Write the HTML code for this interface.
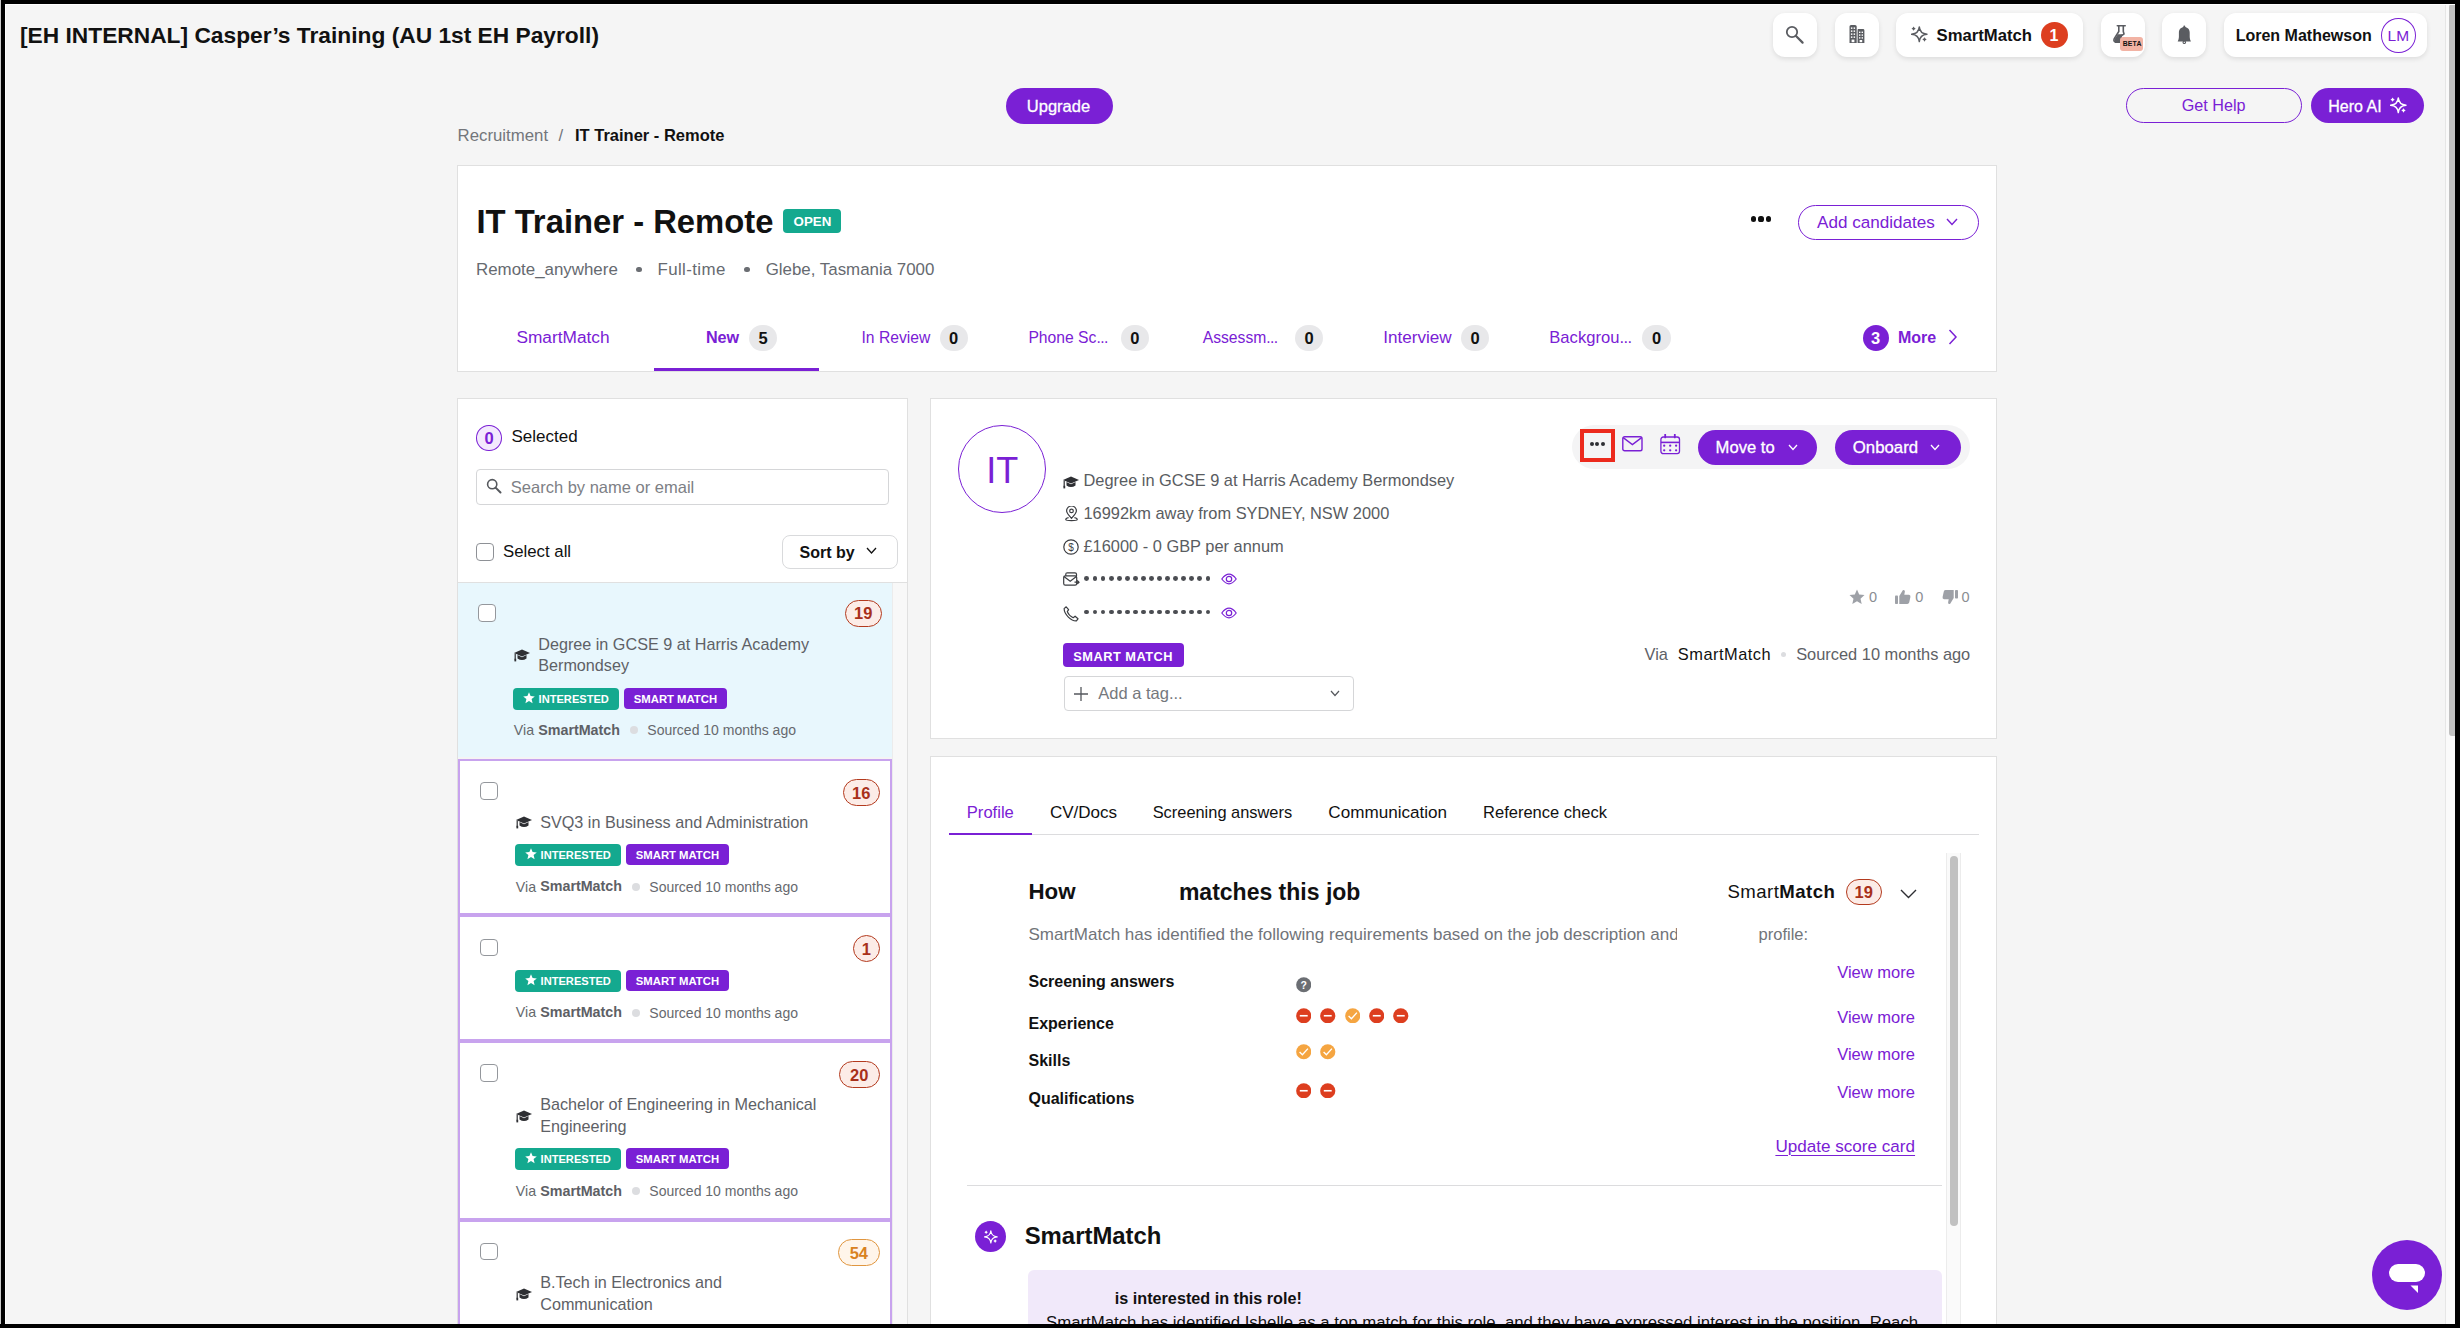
<!DOCTYPE html>
<html lang="en"><head><meta charset="utf-8"><title>IT Trainer - Remote</title>
<style>
html,body{margin:0;padding:0;}
body{width:2460px;height:1328px;overflow:hidden;position:relative;background:#f5f5f5;font-family:"Liberation Sans", Arial, sans-serif;-webkit-font-smoothing:antialiased;}
.t{position:absolute;white-space:nowrap;}
.b{position:absolute;box-sizing:border-box;}
.shadow{background:#fff;border-radius:12px;box-shadow:0 2px 6px rgba(0,0,0,0.10),0 0 1px rgba(0,0,0,0.06);}
</style></head><body>

<div class="t " style="left:20.0px;top:21.57px;font-size:22.75px;line-height:27.30px;font-weight:700;color:#111;">[EH INTERNAL] Casper’s Training (AU 1st EH Payroll)</div>
<div class="b" style="left:1773px;top:13px;width:44px;height:44px;background:#fff;border-radius:12px;box-shadow:0 2px 5px rgba(0,0,0,0.10);"></div>
<svg class="b" style="left:1785px;top:25px;" width="20" height="20" viewBox="0 0 20 20" fill="none"><circle cx="7" cy="7" r="5.2" stroke="#5a5c61" stroke-width="1.8"/><path d="M11 11 L17.6 17.6" stroke="#5a5c61" stroke-width="2.2" stroke-linecap="round"/></svg>
<div class="b" style="left:1835px;top:13px;width:44px;height:44px;background:#fff;border-radius:12px;box-shadow:0 2px 5px rgba(0,0,0,0.10);"></div>
<svg class="b" style="left:1849px;top:25px;" width="16" height="18" viewBox="0 0 16 18" fill="none"><path d="M0.5 1.5 Q0.5 0 2 0 H6 Q7.7 0 7.7 1.5 V18 H0.5Z M8.6 4.6 Q8.6 4 9.3 4 H14 Q15.4 4 15.4 5.4 V18 H8.6Z" fill="#5a5c61"/><g fill="#fff"><rect x="1.9" y="2.4" width="1.5" height="1.5"/><rect x="4.6" y="2.4" width="1.5" height="1.5"/><rect x="1.9" y="5.4" width="1.5" height="1.5"/><rect x="4.6" y="5.4" width="1.5" height="1.5"/><rect x="1.9" y="8.4" width="1.5" height="1.5"/><rect x="4.6" y="8.4" width="1.5" height="1.5"/><rect x="1.9" y="11.4" width="1.5" height="1.5"/><rect x="4.6" y="11.4" width="1.5" height="1.5"/><rect x="2.6" y="14.6" width="2.8" height="2.6"/><rect x="10" y="6.6" width="1.4" height="1.4"/><rect x="12.6" y="6.6" width="1.4" height="1.4"/><rect x="10" y="9.4" width="1.4" height="1.4"/><rect x="12.6" y="9.4" width="1.4" height="1.4"/><rect x="10" y="12.2" width="1.4" height="1.4"/><rect x="12.6" y="12.2" width="1.4" height="1.4"/><rect x="10.6" y="15" width="2.6" height="2.2"/></g></svg>
<div class="b" style="left:1896px;top:13px;width:187px;height:44px;background:#fff;border-radius:12px;box-shadow:0 2px 5px rgba(0,0,0,0.10);"></div>
<svg class="b" style="left:1911px;top:26px;" width="17" height="17" viewBox="0 0 17 17" fill="none"><path d="M8.3 0.9 Q8.9 7.7 16 8.3 Q8.9 8.9 8.3 15.6 Q7.7 8.9 0.6 8.3 Q7.7 7.7 8.3 0.9Z" stroke="#5a5c61" stroke-width="1.45" stroke-linejoin="round"/><path d="M2.6 0.6000000000000001 Q3.188 2.112 4.7 2.7 Q3.188 3.2880000000000003 2.6 4.800000000000001 Q2.012 3.2880000000000003 0.5 2.7 Q2.012 2.112 2.6 0.6000000000000001Z" fill="#5a5c61"/><path d="M13.5 11.3 Q14.116 12.884 15.7 13.5 Q14.116 14.116 13.5 15.7 Q12.884 14.116 11.3 13.5 Q12.884 12.884 13.5 11.3Z" fill="#5a5c61"/></svg>
<div class="t " style="left:1936.5px;top:25.59px;font-size:16.7px;line-height:20.04px;font-weight:700;color:#111;">SmartMatch</div>
<div class="b" style="left:2041px;top:21.5px;width:27px;height:26.5px;background:#dd3e1f;border-radius:50%;"></div>
<div class="t " style="left:2049.5px;top:26.16px;font-size:16px;line-height:19.20px;font-weight:700;color:#fff;">1</div>
<div class="b" style="left:2101px;top:13px;width:44px;height:44px;background:#fff;border-radius:12px;box-shadow:0 2px 5px rgba(0,0,0,0.10);"></div>
<svg class="b" style="left:2113px;top:25px;" width="17" height="18" viewBox="0 0 17 18" fill="none"><path d="M4.3 0.8 H12.2" stroke="#5a5c61" stroke-width="1.6" stroke-linecap="round"/><path d="M5.8 1 V6.5 L1.3 13.5 Q0 16.8 3.4 17.5 H8 V11 L11 9 L10.3 6.5 V1" stroke="#5a5c61" stroke-width="1.6" fill="none"/><path d="M2 13.5 L4.9 9.2 H9 V17.5 H3.4 Q0.5 17 2 13.5Z" fill="#5a5c61"/></svg>
<div class="b" style="left:2120px;top:37px;width:22.59999999999991px;height:13.700000000000003px;background:#f2b3a4;border-radius:3px;"></div>
<div class="t " style="left:2122.7px;top:40.27px;font-size:6.9px;line-height:8.28px;font-weight:700;color:#111;letter-spacing:0.15px;">BETA</div>
<div class="b" style="left:2162px;top:13px;width:44px;height:44px;background:#fff;border-radius:12px;box-shadow:0 2px 5px rgba(0,0,0,0.10);"></div>
<svg class="b" style="left:2177px;top:24.5px;" width="15" height="19" viewBox="0 0 15 19" fill="none"><circle cx="7.3" cy="1.5" r="1" fill="#5a5c61"/><path d="M0.7 16.4 L1.5 14.4 Q1.9 13.2 1.9 11.8 V7.6 C1.9 4.4 4.2 2.1 7.3 2.1 C10.4 2.1 12.7 4.4 12.7 7.6 V11.8 Q12.7 13.2 13.1 14.4 L13.9 16.4Z" fill="#5a5c61"/><circle cx="7.3" cy="17.3" r="1.25" stroke="#5a5c61" stroke-width="1.1"/></svg>
<div class="b" style="left:2224px;top:13px;width:203px;height:44px;background:#fff;border-radius:12px;box-shadow:0 2px 5px rgba(0,0,0,0.10);"></div>
<div class="t " style="left:2235.7px;top:25.56px;font-size:16px;line-height:19.20px;font-weight:700;color:#111;">Loren Mathewson</div>
<div class="b" style="left:2381.3px;top:18.2px;width:34.69999999999982px;height:34.8px;border:1.5px solid #7a20d5;border-radius:50%;"></div>
<div class="t " style="left:2387.6px;top:26.53px;font-size:15.5px;line-height:18.60px;font-weight:400;color:#7a20d5;">LM</div>
<div class="b" style="left:1006px;top:88px;width:107px;height:36px;background:#7a20d5;border-radius:18px;"></div>
<div class="t " style="left:1026.8px;top:97.18px;font-size:16.5px;line-height:19.80px;font-weight:500;color:#fff;-webkit-text-stroke:0.3px #fff;">Upgrade</div>
<div class="b" style="left:2126px;top:88px;width:176px;height:35px;border:1.5px solid #7a20d5;border-radius:18px;"></div>
<div class="t " style="left:2181.7px;top:96.47px;font-size:16.2px;line-height:19.44px;font-weight:400;color:#7a20d5;">Get Help</div>
<div class="b" style="left:2311px;top:88px;width:113px;height:35px;background:#7a20d5;border-radius:18px;"></div>
<div class="t " style="left:2328.3px;top:96.66px;font-size:16px;line-height:19.20px;font-weight:500;color:#fff;-webkit-text-stroke:0.3px #fff;">Hero AI</div>
<svg class="b" style="left:2390.4px;top:97.2px;" width="17" height="17" viewBox="0 0 17 17" fill="none"><path d="M8.3 0.9 Q8.9 7.7 16 8.3 Q8.9 8.9 8.3 15.6 Q7.7 8.9 0.6 8.3 Q7.7 7.7 8.3 0.9Z" stroke="#fff" stroke-width="1.45" stroke-linejoin="round"/><path d="M2.6 0.6000000000000001 Q3.188 2.112 4.7 2.7 Q3.188 3.2880000000000003 2.6 4.800000000000001 Q2.012 3.2880000000000003 0.5 2.7 Q2.012 2.112 2.6 0.6000000000000001Z" fill="#fff"/><path d="M13.5 11.3 Q14.116 12.884 15.7 13.5 Q14.116 14.116 13.5 15.7 Q12.884 14.116 11.3 13.5 Q12.884 12.884 13.5 11.3Z" fill="#fff"/></svg>
<div class="t " style="left:457.6px;top:125.90px;font-size:16.8px;line-height:20.16px;font-weight:400;color:#73767b;">Recruitment</div>
<div class="t " style="left:558.5px;top:125.90px;font-size:16.8px;line-height:20.16px;font-weight:400;color:#73767b;">/</div>
<div class="t " style="left:575.0px;top:126.18px;font-size:16.5px;line-height:19.80px;font-weight:700;color:#111;">IT Trainer - Remote</div>
<div class="b" style="left:457px;top:165px;width:1540px;height:207px;background:#fff;border:1px solid #e0e0e0;"></div>
<div class="t " style="left:476.4px;top:201.55px;font-size:32.8px;line-height:39.36px;font-weight:700;color:#111;">IT Trainer - Remote</div>
<div class="b" style="left:783px;top:209px;width:58px;height:24px;background:#14a98f;border-radius:4px;"></div>
<div class="t " style="left:793.6px;top:214.41px;font-size:13.3px;line-height:15.96px;font-weight:700;color:#fff;">OPEN</div>
<div class="t " style="left:476.0px;top:259.80px;font-size:16.9px;line-height:20.28px;font-weight:400;color:#666a70;">Remote_anywhere</div>
<div class="b" style="left:636px;top:266.5px;width:5.5px;height:5.5px;background:#6b6e73;border-radius:50%;"></div>
<div class="t " style="left:657.5px;top:259.80px;font-size:16.9px;line-height:20.28px;font-weight:400;color:#666a70;letter-spacing:0.38px;">Full-time</div>
<div class="b" style="left:744px;top:266.5px;width:5.5px;height:5.5px;background:#6b6e73;border-radius:50%;"></div>
<div class="t " style="left:765.7px;top:259.80px;font-size:16.9px;line-height:20.28px;font-weight:400;color:#666a70;">Glebe, Tasmania 7000</div>
<div class="b" style="left:1751.0px;top:216.4px;width:5.199999999999818px;height:5.199999999999989px;background:#111;border-radius:50%;"></div>
<div class="b" style="left:1758.4px;top:216.4px;width:5.199999999999818px;height:5.199999999999989px;background:#111;border-radius:50%;"></div>
<div class="b" style="left:1765.8000000000002px;top:216.4px;width:5.199999999999818px;height:5.199999999999989px;background:#111;border-radius:50%;"></div>
<div class="b" style="left:1798px;top:205px;width:181px;height:35px;border:1.5px solid #7a20d5;border-radius:18px;"></div>
<div class="t " style="left:1817.0px;top:212.81px;font-size:17.1px;line-height:20.52px;font-weight:400;color:#7a20d5;">Add candidates</div>
<svg class="b" style="left:1946px;top:218px;" width="12" height="8" viewBox="0 0 12 8" fill="none"><path d="M1 1 L6 6.5 L11 1" stroke="#7a20d5" stroke-width="1.4"/></svg>
<div class="t " style="left:516.4px;top:327.43px;font-size:17.3px;line-height:20.76px;font-weight:400;color:#7a20d5;">SmartMatch</div>
<div class="t " style="left:705.9px;top:328.47px;font-size:16.2px;line-height:19.44px;font-weight:700;color:#7a20d5;">New</div>
<div class="b" style="left:749px;top:325px;width:28px;height:26px;background:#e8e8ea;border-radius:13px;"></div>
<div class="t " style="left:758.4px;top:329.48px;font-size:16.5px;line-height:19.80px;font-weight:700;color:#111;">5</div>
<div class="t " style="left:861.5px;top:328.94px;font-size:15.7px;line-height:18.84px;font-weight:400;color:#7a20d5;">In Review</div>
<div class="b" style="left:940px;top:325px;width:27.5px;height:26px;background:#e8e8ea;border-radius:13px;"></div>
<div class="t " style="left:949.1px;top:329.48px;font-size:16.5px;line-height:19.80px;font-weight:700;color:#111;">0</div>
<div class="t " style="left:1028.4px;top:328.94px;font-size:15.7px;line-height:18.84px;font-weight:400;color:#7a20d5;">Phone Sc<span style='letter-spacing:-0.6px'>...</span></div>
<div class="b" style="left:1121px;top:325px;width:27.5px;height:26px;background:#e8e8ea;border-radius:13px;"></div>
<div class="t " style="left:1130.2px;top:329.48px;font-size:16.5px;line-height:19.80px;font-weight:700;color:#111;">0</div>
<div class="t " style="left:1202.7px;top:328.94px;font-size:15.7px;line-height:18.84px;font-weight:400;color:#7a20d5;">Assessm<span style='letter-spacing:-0.6px'>...</span></div>
<div class="b" style="left:1295px;top:325px;width:28px;height:26px;background:#e8e8ea;border-radius:13px;"></div>
<div class="t " style="left:1304.4px;top:329.48px;font-size:16.5px;line-height:19.80px;font-weight:700;color:#111;">0</div>
<div class="t " style="left:1383.3px;top:327.61px;font-size:17.1px;line-height:20.52px;font-weight:400;color:#7a20d5;">Interview</div>
<div class="b" style="left:1461px;top:325px;width:28px;height:26px;background:#e8e8ea;border-radius:13px;"></div>
<div class="t " style="left:1470.4px;top:329.48px;font-size:16.5px;line-height:19.80px;font-weight:700;color:#111;">0</div>
<div class="t " style="left:1549.3px;top:328.09px;font-size:16.6px;line-height:19.92px;font-weight:400;color:#7a20d5;">Backgrou<span style='letter-spacing:-0.6px'>...</span></div>
<div class="b" style="left:1642.3px;top:325px;width:28.700000000000045px;height:26px;background:#e8e8ea;border-radius:13px;"></div>
<div class="t " style="left:1652.1px;top:329.48px;font-size:16.5px;line-height:19.80px;font-weight:700;color:#111;">0</div>
<div class="b" style="left:1862.7px;top:325px;width:26.0px;height:26px;background:#7a20d5;border-radius:50%;"></div>
<div class="t " style="left:1871.0px;top:329.38px;font-size:16.5px;line-height:19.80px;font-weight:700;color:#fff;">3</div>
<div class="t " style="left:1898.0px;top:328.16px;font-size:16px;line-height:19.20px;font-weight:700;color:#7a20d5;">More</div>
<svg class="b" style="left:1948px;top:329px;" width="10" height="16" viewBox="0 0 10 16" fill="none"><path d="M1.5 1 L8 8 L1.5 15" stroke="#7a20d5" stroke-width="1.5"/></svg>
<div class="b" style="left:654px;top:368px;width:165px;height:3px;background:#7a20d5;"></div>
<div class="b" style="left:457px;top:398px;width:451px;height:1002px;background:#fff;border:1px solid #e0e0e0;"></div>
<div class="b" style="left:476.2px;top:425.3px;width:25.600000000000023px;height:26.19999999999999px;background:#f3e9fd;border:1.3px solid #7a20d5;border-radius:50%;"></div>
<div class="t " style="left:484.5px;top:429.18px;font-size:16.5px;line-height:19.80px;font-weight:700;color:#7a20d5;">0</div>
<div class="t " style="left:511.5px;top:426.71px;font-size:17px;line-height:20.40px;font-weight:400;color:#111;">Selected</div>
<div class="b" style="left:476.4px;top:469.3px;width:413.0px;height:35.30000000000001px;background:#fff;border:1px solid #d5d6d8;border-radius:4px;"></div>
<svg class="b" style="left:486px;top:478px;" width="16" height="16" viewBox="0 0 16 16" fill="none"><circle cx="6.2" cy="6.2" r="4.6" stroke="#55585d" stroke-width="1.6"/><path d="M9.6 9.6 L14.5 14.5" stroke="#55585d" stroke-width="2" stroke-linecap="round"/></svg>
<div class="t " style="left:510.8px;top:478.18px;font-size:16.5px;line-height:19.80px;font-weight:400;color:#7d8085;">Search by name or email</div>
<div class="b" style="left:476.2px;top:543.2px;width:18.0px;height:17.799999999999955px;background:#fff;border:1.4px solid #8e9196;border-radius:4px;"></div>
<div class="t " style="left:503.0px;top:541.90px;font-size:16.8px;line-height:20.16px;font-weight:400;color:#111;">Select all</div>
<div class="b" style="left:781.5px;top:534.6px;width:116.89999999999998px;height:34.60000000000002px;background:#fff;border:1px solid #d9dadc;border-radius:8px;"></div>
<div class="t " style="left:799.6px;top:543.46px;font-size:16px;line-height:19.20px;font-weight:700;color:#111;">Sort by</div>
<svg class="b" style="left:866px;top:547px;" width="11" height="8" viewBox="0 0 11 8" fill="none"><path d="M1 1 L5.5 6 L10 1" stroke="#111" stroke-width="1.3"/></svg>
<div class="b" style="left:458px;top:582px;width:449px;height:1px;background:#e0e0e0;"></div>
<div class="b" style="left:892px;top:583px;width:15px;height:817px;background:#f8f8f8;border-left:1px solid #ececec;"></div>
<div class="b" style="left:458px;top:757px;width:434px;height:2px;background:#f4f4f5;"></div>
<div class="b" style="left:458px;top:583px;width:434px;height:174px;background:#e8f7fd;"></div>
<div class="b" style="left:478px;top:604px;width:18px;height:17.600000000000023px;background:#fff;border:1.4px solid #94979c;border-radius:4px;"></div>
<div class="b" style="left:844.9px;top:600px;width:36.89999999999998px;height:26.5px;background:#fcece7;border:1.3px solid #b33a1e;border-radius:14px;"></div>
<div class="t " style="left:854.0px;top:604.48px;font-size:16.5px;line-height:19.80px;font-weight:700;color:#a8301a;">19</div>
<svg class="b" style="left:513.8px;top:649px;" width="16" height="13" viewBox="0 0 16 13" fill="none"><path d="M8 0.5 L16 4 L8 7.5 L0 4Z" fill="#2e2f33"/><path d="M3.5 6 V9.5 Q8 12.5 12.5 9.5 V6 L8 8.2Z" fill="#2e2f33"/><path d="M1.2 4.6 V10.6" stroke="#2e2f33" stroke-width="1.2"/><rect x="0.4" y="9.8" width="1.8" height="2.6" fill="#2e2f33"/></svg>
<div class="t " style="left:538.2px;top:634.87px;font-size:16.2px;line-height:19.44px;font-weight:400;color:#5e6166;">Degree in GCSE 9 at Harris Academy</div>
<div class="t " style="left:538.2px;top:656.47px;font-size:16.2px;line-height:19.44px;font-weight:400;color:#5e6166;">Bermondsey</div>
<div class="b" style="left:513.3px;top:688.2px;width:105.5px;height:21.5px;background:#14a98f;border-radius:4px;"></div>
<svg class="b" style="left:523.3px;top:691.8000000000001px;" width="12" height="12" viewBox="0 0 12 12" fill="none"><path d="M6 0.2 L7.6 4.1 L11.8 4.4 L8.6 7.1 L9.6 11.3 L6 9.1 L2.4 11.3 L3.4 7.1 L0.2 4.4 L4.4 4.1Z" fill="#fff"/></svg>
<div class="t " style="left:538.6px;top:693.09px;font-size:11.1px;line-height:13.32px;font-weight:700;color:#fff;">INTERESTED</div>
<div class="b" style="left:624.3px;top:688.2px;width:102.5px;height:21.200000000000045px;background:#7a20d5;border-radius:4px;"></div>
<div class="t " style="left:633.8px;top:692.90px;font-size:11.3px;line-height:13.56px;font-weight:700;color:#fff;">SMART MATCH</div>
<div class="t " style="left:513.8px;top:721.76px;font-size:14.2px;line-height:17.04px;font-weight:400;color:#66696e;">Via</div>
<div class="t " style="left:538.2px;top:721.67px;font-size:14.3px;line-height:17.16px;font-weight:700;color:#5d6065;">SmartMatch</div>
<div class="b" style="left:629.8px;top:725.9px;width:8.0px;height:8.0px;background:#dcdde0;border-radius:50%;"></div>
<div class="t " style="left:647.3px;top:721.95px;font-size:14px;line-height:16.80px;font-weight:400;color:#66696e;">Sourced 10 months ago</div>
<div class="b" style="left:458px;top:759px;width:434px;height:156px;background:#fff;border:2px solid #c8a3ee;"></div>
<div class="b" style="left:480px;top:782px;width:18px;height:17.600000000000023px;background:#fff;border:1.4px solid #94979c;border-radius:4px;"></div>
<div class="b" style="left:843px;top:779.4px;width:36.700000000000045px;height:26.5px;background:#fcece7;border:1.3px solid #b33a1e;border-radius:14px;"></div>
<div class="t " style="left:852.1px;top:783.88px;font-size:16.5px;line-height:19.80px;font-weight:700;color:#a8301a;">16</div>
<svg class="b" style="left:515.8px;top:815.5px;" width="16" height="13" viewBox="0 0 16 13" fill="none"><path d="M8 0.5 L16 4 L8 7.5 L0 4Z" fill="#2e2f33"/><path d="M3.5 6 V9.5 Q8 12.5 12.5 9.5 V6 L8 8.2Z" fill="#2e2f33"/><path d="M1.2 4.6 V10.6" stroke="#2e2f33" stroke-width="1.2"/><rect x="0.4" y="9.8" width="1.8" height="2.6" fill="#2e2f33"/></svg>
<div class="t " style="left:540.2px;top:813.47px;font-size:16.2px;line-height:19.44px;font-weight:400;color:#5e6166;">SVQ3 in Business and Administration</div>
<div class="b" style="left:515.3px;top:844.2px;width:105.5px;height:21.5px;background:#14a98f;border-radius:4px;"></div>
<svg class="b" style="left:525.3px;top:847.8000000000001px;" width="12" height="12" viewBox="0 0 12 12" fill="none"><path d="M6 0.2 L7.6 4.1 L11.8 4.4 L8.6 7.1 L9.6 11.3 L6 9.1 L2.4 11.3 L3.4 7.1 L0.2 4.4 L4.4 4.1Z" fill="#fff"/></svg>
<div class="t " style="left:540.6px;top:849.09px;font-size:11.1px;line-height:13.32px;font-weight:700;color:#fff;">INTERESTED</div>
<div class="b" style="left:626.3px;top:844.2px;width:102.5px;height:21.200000000000045px;background:#7a20d5;border-radius:4px;"></div>
<div class="t " style="left:635.8px;top:848.90px;font-size:11.3px;line-height:13.56px;font-weight:700;color:#fff;">SMART MATCH</div>
<div class="t " style="left:515.8px;top:878.56px;font-size:14.2px;line-height:17.04px;font-weight:400;color:#66696e;">Via</div>
<div class="t " style="left:540.2px;top:878.47px;font-size:14.3px;line-height:17.16px;font-weight:700;color:#5d6065;">SmartMatch</div>
<div class="b" style="left:631.8px;top:882.7px;width:8.0px;height:8.0px;background:#dcdde0;border-radius:50%;"></div>
<div class="t " style="left:649.3px;top:878.75px;font-size:14px;line-height:16.80px;font-weight:400;color:#66696e;">Sourced 10 months ago</div>
<div class="b" style="left:458px;top:915px;width:434px;height:126px;background:#fff;border:2px solid #c8a3ee;"></div>
<div class="b" style="left:480px;top:938.6px;width:18px;height:17.600000000000023px;background:#fff;border:1.4px solid #94979c;border-radius:4px;"></div>
<div class="b" style="left:853px;top:935.2px;width:26.700000000000045px;height:26.5px;background:#fcece7;border:1.3px solid #b33a1e;border-radius:14px;"></div>
<div class="t " style="left:861.7px;top:939.68px;font-size:16.5px;line-height:19.80px;font-weight:700;color:#a8301a;">1</div>
<div class="b" style="left:515.3px;top:970.2px;width:105.5px;height:21.5px;background:#14a98f;border-radius:4px;"></div>
<svg class="b" style="left:525.3px;top:973.8000000000001px;" width="12" height="12" viewBox="0 0 12 12" fill="none"><path d="M6 0.2 L7.6 4.1 L11.8 4.4 L8.6 7.1 L9.6 11.3 L6 9.1 L2.4 11.3 L3.4 7.1 L0.2 4.4 L4.4 4.1Z" fill="#fff"/></svg>
<div class="t " style="left:540.6px;top:975.09px;font-size:11.1px;line-height:13.32px;font-weight:700;color:#fff;">INTERESTED</div>
<div class="b" style="left:626.3px;top:970.2px;width:102.5px;height:21.200000000000045px;background:#7a20d5;border-radius:4px;"></div>
<div class="t " style="left:635.8px;top:974.90px;font-size:11.3px;line-height:13.56px;font-weight:700;color:#fff;">SMART MATCH</div>
<div class="t " style="left:515.8px;top:1004.36px;font-size:14.2px;line-height:17.04px;font-weight:400;color:#66696e;">Via</div>
<div class="t " style="left:540.2px;top:1004.27px;font-size:14.3px;line-height:17.16px;font-weight:700;color:#5d6065;">SmartMatch</div>
<div class="b" style="left:631.8px;top:1008.5px;width:8.0px;height:8.0px;background:#dcdde0;border-radius:50%;"></div>
<div class="t " style="left:649.3px;top:1004.55px;font-size:14px;line-height:16.80px;font-weight:400;color:#66696e;">Sourced 10 months ago</div>
<div class="b" style="left:458px;top:1041px;width:434px;height:179px;background:#fff;border:2px solid #c8a3ee;"></div>
<div class="b" style="left:480px;top:1064px;width:18px;height:17.59999999999991px;background:#fff;border:1.4px solid #94979c;border-radius:4px;"></div>
<div class="b" style="left:839px;top:1061.4px;width:40.700000000000045px;height:26.5px;background:#fcece7;border:1.3px solid #b33a1e;border-radius:14px;"></div>
<div class="t " style="left:850.1px;top:1065.88px;font-size:16.5px;line-height:19.80px;font-weight:700;color:#a8301a;">20</div>
<svg class="b" style="left:515.8px;top:1109.6px;" width="16" height="13" viewBox="0 0 16 13" fill="none"><path d="M8 0.5 L16 4 L8 7.5 L0 4Z" fill="#2e2f33"/><path d="M3.5 6 V9.5 Q8 12.5 12.5 9.5 V6 L8 8.2Z" fill="#2e2f33"/><path d="M1.2 4.6 V10.6" stroke="#2e2f33" stroke-width="1.2"/><rect x="0.4" y="9.8" width="1.8" height="2.6" fill="#2e2f33"/></svg>
<div class="t " style="left:540.2px;top:1095.07px;font-size:16.2px;line-height:19.44px;font-weight:400;color:#5e6166;">Bachelor of Engineering in Mechanical</div>
<div class="t " style="left:540.2px;top:1116.67px;font-size:16.2px;line-height:19.44px;font-weight:400;color:#5e6166;">Engineering</div>
<div class="b" style="left:515.3px;top:1148px;width:105.5px;height:21.5px;background:#14a98f;border-radius:4px;"></div>
<svg class="b" style="left:525.3px;top:1151.6px;" width="12" height="12" viewBox="0 0 12 12" fill="none"><path d="M6 0.2 L7.6 4.1 L11.8 4.4 L8.6 7.1 L9.6 11.3 L6 9.1 L2.4 11.3 L3.4 7.1 L0.2 4.4 L4.4 4.1Z" fill="#fff"/></svg>
<div class="t " style="left:540.6px;top:1152.89px;font-size:11.1px;line-height:13.32px;font-weight:700;color:#fff;">INTERESTED</div>
<div class="b" style="left:626.3px;top:1148px;width:102.5px;height:21.200000000000045px;background:#7a20d5;border-radius:4px;"></div>
<div class="t " style="left:635.8px;top:1152.70px;font-size:11.3px;line-height:13.56px;font-weight:700;color:#fff;">SMART MATCH</div>
<div class="t " style="left:515.8px;top:1182.96px;font-size:14.2px;line-height:17.04px;font-weight:400;color:#66696e;">Via</div>
<div class="t " style="left:540.2px;top:1182.87px;font-size:14.3px;line-height:17.16px;font-weight:700;color:#5d6065;">SmartMatch</div>
<div class="b" style="left:631.8px;top:1187.1px;width:8.0px;height:8.0px;background:#dcdde0;border-radius:50%;"></div>
<div class="t " style="left:649.3px;top:1183.15px;font-size:14px;line-height:16.80px;font-weight:400;color:#66696e;">Sourced 10 months ago</div>
<div class="b" style="left:458px;top:1220px;width:434px;height:180px;background:#fff;border:2px solid #c8a3ee;"></div>
<div class="b" style="left:480px;top:1242.5px;width:18px;height:17.59999999999991px;background:#fff;border:1.4px solid #94979c;border-radius:4px;"></div>
<div class="b" style="left:838.2px;top:1239.3px;width:41.5px;height:26.5px;background:#fff5ea;border:1.3px solid #e0963f;border-radius:14px;"></div>
<div class="t " style="left:849.7px;top:1243.78px;font-size:16.5px;line-height:19.80px;font-weight:700;color:#d9821f;">54</div>
<svg class="b" style="left:515.8px;top:1287.5px;" width="16" height="13" viewBox="0 0 16 13" fill="none"><path d="M8 0.5 L16 4 L8 7.5 L0 4Z" fill="#2e2f33"/><path d="M3.5 6 V9.5 Q8 12.5 12.5 9.5 V6 L8 8.2Z" fill="#2e2f33"/><path d="M1.2 4.6 V10.6" stroke="#2e2f33" stroke-width="1.2"/><rect x="0.4" y="9.8" width="1.8" height="2.6" fill="#2e2f33"/></svg>
<div class="t " style="left:540.2px;top:1273.47px;font-size:16.2px;line-height:19.44px;font-weight:400;color:#5e6166;">B.Tech in Electronics and</div>
<div class="t " style="left:540.2px;top:1295.07px;font-size:16.2px;line-height:19.44px;font-weight:400;color:#5e6166;">Communication</div>
<div class="b" style="left:515.3px;top:1327px;width:105.5px;height:21.5px;background:#14a98f;border-radius:4px;"></div>
<svg class="b" style="left:525.3px;top:1330.6px;" width="12" height="12" viewBox="0 0 12 12" fill="none"><path d="M6 0.2 L7.6 4.1 L11.8 4.4 L8.6 7.1 L9.6 11.3 L6 9.1 L2.4 11.3 L3.4 7.1 L0.2 4.4 L4.4 4.1Z" fill="#fff"/></svg>
<div class="t " style="left:540.6px;top:1331.89px;font-size:11.1px;line-height:13.32px;font-weight:700;color:#fff;">INTERESTED</div>
<div class="b" style="left:626.3px;top:1327px;width:102.5px;height:21.200000000000045px;background:#7a20d5;border-radius:4px;"></div>
<div class="t " style="left:635.8px;top:1331.70px;font-size:11.3px;line-height:13.56px;font-weight:700;color:#fff;">SMART MATCH</div>
<div class="t " style="left:515.8px;top:1361.36px;font-size:14.2px;line-height:17.04px;font-weight:400;color:#66696e;">Via</div>
<div class="t " style="left:540.2px;top:1361.27px;font-size:14.3px;line-height:17.16px;font-weight:700;color:#5d6065;">SmartMatch</div>
<div class="b" style="left:631.8px;top:1365.5px;width:8.0px;height:8.0px;background:#dcdde0;border-radius:50%;"></div>
<div class="t " style="left:649.3px;top:1361.55px;font-size:14px;line-height:16.80px;font-weight:400;color:#66696e;">Sourced 10 months ago</div>
<div class="b" style="left:930px;top:398px;width:1067px;height:341px;background:#fff;border:1px solid #e0e0e0;"></div>
<div class="b" style="left:958px;top:425px;width:88px;height:88px;border:1.5px solid #7a20d5;border-radius:50%;"></div>
<div class="t " style="left:986.2px;top:448.73px;font-size:36px;line-height:43.20px;font-weight:400;color:#7a20d5;">IT</div>
<svg class="b" style="left:1063.4px;top:475.5px;" width="16" height="13" viewBox="0 0 16 13" fill="none"><path d="M8 0.5 L16 4 L8 7.5 L0 4Z" fill="#2e2f33"/><path d="M3.5 6 V9.5 Q8 12.5 12.5 9.5 V6 L8 8.2Z" fill="#2e2f33"/><path d="M1.2 4.6 V10.6" stroke="#2e2f33" stroke-width="1.2"/><rect x="0.4" y="9.8" width="1.8" height="2.6" fill="#2e2f33"/></svg>
<div class="t " style="left:1083.5px;top:471.28px;font-size:16.4px;line-height:19.68px;font-weight:400;color:#595c61;">Degree in GCSE 9 at Harris Academy Bermondsey</div>
<svg class="b" style="left:1065px;top:506px;" width="13" height="16" viewBox="0 0 13 16" fill="none"><path d="M6.5 12.3 C3.5 9 1.6 6.9 1.6 4.9 A4.9 4.9 0 0 1 11.4 4.9 C11.4 6.9 9.5 9 6.5 12.3Z" stroke="#3a3c40" stroke-width="1.2"/><circle cx="6.5" cy="4.9" r="1.8" stroke="#3a3c40" stroke-width="1.2"/><path d="M3.6 11.6 C1.4 12 0.6 12.8 0.8 13.6 C1.3 15 11.7 15 12.2 13.6 C12.4 12.8 11.6 12 9.4 11.6" stroke="#3a3c40" stroke-width="1.2"/></svg>
<div class="t " style="left:1083.5px;top:504.48px;font-size:16.4px;line-height:19.68px;font-weight:400;color:#595c61;">16992km away from SYDNEY, NSW 2000</div>
<svg class="b" style="left:1063px;top:539.3px;" width="16" height="16" viewBox="0 0 16 16" fill="none"><circle cx="8" cy="8" r="7.2" stroke="#3a3c40" stroke-width="1.2"/><text x="8" y="11.6" text-anchor="middle" font-family="Liberation Sans" font-size="10" fill="#3a3c40">$</text></svg>
<div class="t " style="left:1083.5px;top:537.48px;font-size:16.4px;line-height:19.68px;font-weight:400;color:#595c61;">£16000 - 0 GBP per annum</div>
<svg class="b" style="left:1063px;top:572px;" width="17" height="14" viewBox="0 0 17 14" fill="none"><rect x="0.7" y="3.8" width="13" height="9.4" rx="1.6" stroke="#3a3c40" stroke-width="1.2"/><path d="M0.9 4.6 L7.2 9.2 L13.4 4.6" stroke="#3a3c40" stroke-width="1.2"/><path d="M2.8 3.8 V2.3 Q2.8 0.8 4.3 0.8 H12 Q13.5 0.8 13.5 2.3 V4" stroke="#3a3c40" stroke-width="1.2"/><path d="M11.5 10.2 H16 M14.2 8.4 L16 10.2 L14.2 12" stroke="#3a3c40" stroke-width="1.2"/></svg>
<svg class="b" style="left:1063px;top:605.5px;" width="16" height="16" viewBox="0 0 16 16" fill="none"><path d="M3.2 0.8 L5.6 3.6 L4.3 5.6 C5.2 8 7.6 10.6 10.2 11.7 L12.1 10.2 L15 12.8 L13.4 14.9 C8.2 15.2 1.2 8.5 1.1 2.6Z" stroke="#3a3c40" stroke-width="1.2" stroke-linejoin="round"/></svg>
<div class="b" style="left:1084.45px;top:576.4499999999999px;width:4.900000000000091px;height:4.900000000000091px;background:#4b4d52;border-radius:50%;"></div>
<div class="b" style="left:1092.52px;top:576.4499999999999px;width:4.900000000000091px;height:4.900000000000091px;background:#4b4d52;border-radius:50%;"></div>
<div class="b" style="left:1100.5900000000001px;top:576.4499999999999px;width:4.900000000000091px;height:4.900000000000091px;background:#4b4d52;border-radius:50%;"></div>
<div class="b" style="left:1108.66px;top:576.4499999999999px;width:4.900000000000091px;height:4.900000000000091px;background:#4b4d52;border-radius:50%;"></div>
<div class="b" style="left:1116.73px;top:576.4499999999999px;width:4.900000000000091px;height:4.900000000000091px;background:#4b4d52;border-radius:50%;"></div>
<div class="b" style="left:1124.8px;top:576.4499999999999px;width:4.900000000000091px;height:4.900000000000091px;background:#4b4d52;border-radius:50%;"></div>
<div class="b" style="left:1132.8700000000001px;top:576.4499999999999px;width:4.900000000000091px;height:4.900000000000091px;background:#4b4d52;border-radius:50%;"></div>
<div class="b" style="left:1140.94px;top:576.4499999999999px;width:4.900000000000091px;height:4.900000000000091px;background:#4b4d52;border-radius:50%;"></div>
<div class="b" style="left:1149.01px;top:576.4499999999999px;width:4.900000000000091px;height:4.900000000000091px;background:#4b4d52;border-radius:50%;"></div>
<div class="b" style="left:1157.0800000000002px;top:576.4499999999999px;width:4.900000000000091px;height:4.900000000000091px;background:#4b4d52;border-radius:50%;"></div>
<div class="b" style="left:1165.15px;top:576.4499999999999px;width:4.900000000000091px;height:4.900000000000091px;background:#4b4d52;border-radius:50%;"></div>
<div class="b" style="left:1173.22px;top:576.4499999999999px;width:4.900000000000091px;height:4.900000000000091px;background:#4b4d52;border-radius:50%;"></div>
<div class="b" style="left:1181.29px;top:576.4499999999999px;width:4.900000000000091px;height:4.900000000000091px;background:#4b4d52;border-radius:50%;"></div>
<div class="b" style="left:1189.3600000000001px;top:576.4499999999999px;width:4.900000000000091px;height:4.900000000000091px;background:#4b4d52;border-radius:50%;"></div>
<div class="b" style="left:1197.43px;top:576.4499999999999px;width:4.900000000000091px;height:4.900000000000091px;background:#4b4d52;border-radius:50%;"></div>
<div class="b" style="left:1205.5px;top:576.4499999999999px;width:4.900000000000091px;height:4.900000000000091px;background:#4b4d52;border-radius:50%;"></div>
<svg class="b" style="left:1220.5px;top:573.4px;" width="16" height="12" viewBox="0 0 16 12" fill="none"><path d="M0.8 6 Q8 -3.6 15.2 6 Q8 15.6 0.8 6Z" stroke="#7a20d5" stroke-width="1.2"/><circle cx="8" cy="6" r="2.7" stroke="#7a20d5" stroke-width="1.2"/></svg>
<div class="b" style="left:1084.45px;top:609.55px;width:4.900000000000091px;height:4.900000000000091px;background:#4b4d52;border-radius:50%;"></div>
<div class="b" style="left:1092.52px;top:609.55px;width:4.900000000000091px;height:4.900000000000091px;background:#4b4d52;border-radius:50%;"></div>
<div class="b" style="left:1100.5900000000001px;top:609.55px;width:4.900000000000091px;height:4.900000000000091px;background:#4b4d52;border-radius:50%;"></div>
<div class="b" style="left:1108.66px;top:609.55px;width:4.900000000000091px;height:4.900000000000091px;background:#4b4d52;border-radius:50%;"></div>
<div class="b" style="left:1116.73px;top:609.55px;width:4.900000000000091px;height:4.900000000000091px;background:#4b4d52;border-radius:50%;"></div>
<div class="b" style="left:1124.8px;top:609.55px;width:4.900000000000091px;height:4.900000000000091px;background:#4b4d52;border-radius:50%;"></div>
<div class="b" style="left:1132.8700000000001px;top:609.55px;width:4.900000000000091px;height:4.900000000000091px;background:#4b4d52;border-radius:50%;"></div>
<div class="b" style="left:1140.94px;top:609.55px;width:4.900000000000091px;height:4.900000000000091px;background:#4b4d52;border-radius:50%;"></div>
<div class="b" style="left:1149.01px;top:609.55px;width:4.900000000000091px;height:4.900000000000091px;background:#4b4d52;border-radius:50%;"></div>
<div class="b" style="left:1157.0800000000002px;top:609.55px;width:4.900000000000091px;height:4.900000000000091px;background:#4b4d52;border-radius:50%;"></div>
<div class="b" style="left:1165.15px;top:609.55px;width:4.900000000000091px;height:4.900000000000091px;background:#4b4d52;border-radius:50%;"></div>
<div class="b" style="left:1173.22px;top:609.55px;width:4.900000000000091px;height:4.900000000000091px;background:#4b4d52;border-radius:50%;"></div>
<div class="b" style="left:1181.29px;top:609.55px;width:4.900000000000091px;height:4.900000000000091px;background:#4b4d52;border-radius:50%;"></div>
<div class="b" style="left:1189.3600000000001px;top:609.55px;width:4.900000000000091px;height:4.900000000000091px;background:#4b4d52;border-radius:50%;"></div>
<div class="b" style="left:1197.43px;top:609.55px;width:4.900000000000091px;height:4.900000000000091px;background:#4b4d52;border-radius:50%;"></div>
<div class="b" style="left:1205.5px;top:609.55px;width:4.900000000000091px;height:4.900000000000091px;background:#4b4d52;border-radius:50%;"></div>
<svg class="b" style="left:1220.5px;top:606.5px;" width="16" height="12" viewBox="0 0 16 12" fill="none"><path d="M0.8 6 Q8 -3.6 15.2 6 Q8 15.6 0.8 6Z" stroke="#7a20d5" stroke-width="1.2"/><circle cx="8" cy="6" r="2.7" stroke="#7a20d5" stroke-width="1.2"/></svg>
<div class="b" style="left:1063px;top:643px;width:121px;height:23.5px;background:#7a20d5;border-radius:4px;"></div>
<div class="t " style="left:1073.3px;top:649.08px;font-size:12.8px;line-height:15.36px;font-weight:700;color:#fff;letter-spacing:0.5px;">SMART MATCH</div>
<div class="b" style="left:1063.5px;top:676.4px;width:290.5px;height:34.30000000000007px;background:#fff;border:1px solid #d5d6d8;border-radius:4px;"></div>
<svg class="b" style="left:1073px;top:685.5px;" width="16" height="16" viewBox="0 0 16 16" fill="none"><path d="M8 1 V15 M1 8 H15" stroke="#55585d" stroke-width="1.3"/></svg>
<div class="t " style="left:1098.3px;top:684.48px;font-size:16.5px;line-height:19.80px;font-weight:400;color:#75787d;">Add a tag...</div>
<svg class="b" style="left:1330px;top:690px;" width="10" height="7" viewBox="0 0 10 7" fill="none"><path d="M1 1 L5 5.5 L9 1" stroke="#55585d" stroke-width="1.2"/></svg>
<div class="b" style="left:1572px;top:425px;width:398px;height:44px;background:#f4f4f5;border-radius:22px;"></div>
<div class="b" style="left:1580px;top:429px;width:35px;height:33px;border:4px solid #ec2a1d;"></div>
<div class="b" style="left:1589.65px;top:442.1px;width:4.099999999999909px;height:4.099999999999966px;background:#2e2f33;border-radius:50%;"></div>
<div class="b" style="left:1595.3500000000001px;top:442.1px;width:4.099999999999909px;height:4.099999999999966px;background:#2e2f33;border-radius:50%;"></div>
<div class="b" style="left:1601.05px;top:442.1px;width:4.099999999999909px;height:4.099999999999966px;background:#2e2f33;border-radius:50%;"></div>
<svg class="b" style="left:1622px;top:436px;" width="21" height="16" viewBox="0 0 21 16" fill="none"><rect x="0.8" y="0.8" width="19.2" height="14" rx="1.8" stroke="#7a20d5" stroke-width="1.4"/><path d="M1.2 1.6 L10.4 8.6 L19.6 1.6" stroke="#7a20d5" stroke-width="1.4"/></svg>
<svg class="b" style="left:1660px;top:433.5px;" width="21" height="21" viewBox="0 0 21 21" fill="none"><rect x="0.9" y="3" width="18.6" height="16.7" rx="2.4" stroke="#7a20d5" stroke-width="1.3"/><path d="M1 8.4 H19.4" stroke="#7a20d5" stroke-width="1.6"/><path d="M5.2 0.6 V3.4 M14.8 0.6 V3.4" stroke="#7a20d5" stroke-width="1.8" stroke-linecap="round"/><circle cx="4.2" cy="11.7" r="1.15" fill="#7a20d5"/><circle cx="10.2" cy="11.7" r="1.15" fill="#7a20d5"/><circle cx="16.1" cy="11.7" r="1.15" fill="#7a20d5"/><circle cx="4.2" cy="16.3" r="1.15" fill="#7a20d5"/><circle cx="10.2" cy="16.3" r="1.15" fill="#7a20d5"/><circle cx="16.1" cy="16.3" r="1.15" fill="#7a20d5"/></svg>
<div class="b" style="left:1698px;top:430px;width:119px;height:35px;background:#7a20d5;border-radius:18px;"></div>
<div class="t " style="left:1715.6px;top:438.49px;font-size:16.6px;line-height:19.92px;font-weight:500;color:#fff;-webkit-text-stroke:0.3px #fff;">Move to</div>
<svg class="b" style="left:1787.5px;top:443.5px;" width="10" height="7" viewBox="0 0 10 7" fill="none"><path d="M1 1 L5 5.5 L9 1" stroke="#fff" stroke-width="1.3"/></svg>
<div class="b" style="left:1835px;top:430px;width:126px;height:35px;background:#7a20d5;border-radius:18px;"></div>
<div class="t " style="left:1852.8px;top:438.30px;font-size:16.8px;line-height:20.16px;font-weight:500;color:#fff;-webkit-text-stroke:0.3px #fff;">Onboard</div>
<svg class="b" style="left:1930px;top:443.5px;" width="10" height="7" viewBox="0 0 10 7" fill="none"><path d="M1 1 L5 5.5 L9 1" stroke="#fff" stroke-width="1.3"/></svg>
<svg class="b" style="left:1848.5px;top:588.5px;" width="16" height="16" viewBox="0 0 16 16" fill="none"><path d="M8 0.6 L10.2 5.6 L15.5 6.1 L11.5 9.7 L12.7 15 L8 12.2 L3.3 15 L4.5 9.7 L0.5 6.1 L5.8 5.6Z" fill="#9ea1a7"/></svg>
<div class="t " style="left:1869.0px;top:588.68px;font-size:14.5px;line-height:17.40px;font-weight:400;color:#8a8d92;">0</div>
<svg class="b" style="left:1895px;top:588.5px;" width="16" height="16" viewBox="0 0 16 16" fill="none"><rect x="0" y="6.5" width="3" height="8.5" rx="0.8" fill="#9ea1a7"/><path d="M4.3 7 L7.8 1.2 Q9.8 0.3 9.9 2.5 L9.3 5.8 H14 Q15.8 6 15.4 8 L14.2 13.6 Q13.8 15 12.3 15 H4.3Z" fill="#9ea1a7"/></svg>
<div class="t " style="left:1915.3px;top:588.68px;font-size:14.5px;line-height:17.40px;font-weight:400;color:#8a8d92;">0</div>
<svg class="b" style="left:1941.5px;top:588.5px;" width="16" height="16" viewBox="0 0 16 16" fill="none"><g transform="translate(16 16) rotate(180)"><rect x="0" y="6.5" width="3" height="8.5" rx="0.8" fill="#9ea1a7"/><path d="M4.3 7 L7.8 1.2 Q9.8 0.3 9.9 2.5 L9.3 5.8 H14 Q15.8 6 15.4 8 L14.2 13.6 Q13.8 15 12.3 15 H4.3Z" fill="#9ea1a7"/></g></svg>
<div class="t " style="left:1961.6px;top:588.68px;font-size:14.5px;line-height:17.40px;font-weight:400;color:#8a8d92;">0</div>
<div class="t " style="left:1644.6px;top:645.28px;font-size:16.4px;line-height:19.68px;font-weight:400;color:#5e6166;">Via</div>
<div class="t " style="left:1677.8px;top:645.28px;font-size:16.4px;line-height:19.68px;font-weight:400;color:#111;letter-spacing:0.5px;">SmartMatch</div>
<div class="b" style="left:1780.5px;top:651.5px;width:5.0px;height:5.0px;background:#dcdde0;border-radius:50%;"></div>
<div class="t " style="left:1796.2px;top:645.28px;font-size:16.4px;line-height:19.68px;font-weight:400;color:#5e6166;">Sourced 10 months ago</div>
<div class="b" style="left:930px;top:756px;width:1067px;height:644px;background:#fff;border:1px solid #e0e0e0;"></div>
<div class="t " style="left:966.8px;top:803.39px;font-size:16.6px;line-height:19.92px;font-weight:400;color:#7a20d5;">Profile</div>
<div class="t " style="left:1049.9px;top:802.96px;font-size:17.05px;line-height:20.46px;font-weight:400;color:#111;">CV/Docs</div>
<div class="t " style="left:1152.7px;top:803.28px;font-size:16.4px;line-height:19.68px;font-weight:400;color:#111;">Screening answers</div>
<div class="t " style="left:1328.3px;top:802.91px;font-size:17.1px;line-height:20.52px;font-weight:400;color:#111;">Communication</div>
<div class="t " style="left:1483.1px;top:803.48px;font-size:16.5px;line-height:19.80px;font-weight:400;color:#111;">Reference check</div>
<div class="b" style="left:949px;top:834px;width:1030px;height:1.2999999999999545px;background:#dcdcde;"></div>
<div class="b" style="left:949px;top:832.6px;width:83px;height:2.7999999999999545px;background:#7a20d5;"></div>
<div class="b" style="left:1946px;top:853px;width:15px;height:547px;background:#fafafa;border-left:1px solid #ececec;border-right:1px solid #ececec;"></div>
<div class="b" style="left:1949.8px;top:855.5px;width:8.200000000000045px;height:370.79999999999995px;background:#c1c1c1;border-radius:4px;"></div>
<div class="t " style="left:1028.5px;top:879.39px;font-size:22.3px;line-height:26.76px;font-weight:700;color:#111;">How</div>
<div class="t " style="left:1178.9px;top:878.73px;font-size:23px;line-height:27.60px;font-weight:700;color:#111;">matches this job</div>
<div class="t " style="left:1727.5px;top:880.50px;font-size:18.6px;line-height:22.32px;font-weight:400;color:#111;letter-spacing:0.45px;">Smart<b>Match</b></div>
<div class="b" style="left:1846px;top:879.4px;width:35.5px;height:26.100000000000023px;background:#fcece7;border:1.3px solid #b33a1e;border-radius:14px;"></div>
<div class="t " style="left:1854.5px;top:883.48px;font-size:16.5px;line-height:19.80px;font-weight:700;color:#a8301a;">19</div>
<svg class="b" style="left:1899.5px;top:889px;" width="17" height="10" viewBox="0 0 17 10" fill="none"><path d="M1 1 L8.5 8.5 L16 1" stroke="#2e2f33" stroke-width="1.4"/></svg>
<div class="t" style="left:1028.5px;top:924.9px;width:648.5px;overflow:hidden;font-size:17px;line-height:20.4px;color:#717479;">SmartMatch has identified the following requirements based on the job description and</div>
<div class="t " style="left:1758.6px;top:925.48px;font-size:16.5px;line-height:19.80px;font-weight:400;color:#717479;">profile:</div>
<div class="t " style="left:1028.5px;top:971.66px;font-size:16px;line-height:19.20px;font-weight:700;color:#111;">Screening answers</div>
<svg class="b" style="left:1295.7px;top:977px;" width="15.5" height="15.5" viewBox="0 0 15.5 15.5" fill="none"><circle cx="7.75" cy="7.75" r="7.6" fill="#6b6e73"/><text x="7.75" y="11.6" text-anchor="middle" font-family="Liberation Sans" font-weight="700" font-size="10.5" fill="#fff">?</text></svg>
<div class="t " style="left:1837.2px;top:963.08px;font-size:16.5px;line-height:19.80px;font-weight:400;color:#7a20d5;">View more</div>
<div class="t " style="left:1028.5px;top:1013.96px;font-size:16px;line-height:19.20px;font-weight:700;color:#111;">Experience</div>
<svg class="b" style="left:1295.7px;top:1007.8px;" width="15.5" height="15.5" viewBox="0 0 15.5 15.5" fill="none"><circle cx="7.75" cy="7.75" r="7.6" fill="#dd3e1f"/><path d="M3.8 7.75 H11.7" stroke="#fff" stroke-width="1.6"/></svg>
<svg class="b" style="left:1320.1000000000001px;top:1007.8px;" width="15.5" height="15.5" viewBox="0 0 15.5 15.5" fill="none"><circle cx="7.75" cy="7.75" r="7.6" fill="#dd3e1f"/><path d="M3.8 7.75 H11.7" stroke="#fff" stroke-width="1.6"/></svg>
<svg class="b" style="left:1344.5px;top:1007.8px;" width="15.5" height="15.5" viewBox="0 0 15.5 15.5" fill="none"><circle cx="7.75" cy="7.75" r="7.6" fill="#f5a541"/><path d="M3.6 8 L6.4 10.8 L11.9 4.6" stroke="#fff" stroke-width="1.4"/></svg>
<svg class="b" style="left:1368.9px;top:1007.8px;" width="15.5" height="15.5" viewBox="0 0 15.5 15.5" fill="none"><circle cx="7.75" cy="7.75" r="7.6" fill="#dd3e1f"/><path d="M3.8 7.75 H11.7" stroke="#fff" stroke-width="1.6"/></svg>
<svg class="b" style="left:1393.3px;top:1007.8px;" width="15.5" height="15.5" viewBox="0 0 15.5 15.5" fill="none"><circle cx="7.75" cy="7.75" r="7.6" fill="#dd3e1f"/><path d="M3.8 7.75 H11.7" stroke="#fff" stroke-width="1.6"/></svg>
<div class="t " style="left:1837.2px;top:1008.08px;font-size:16.5px;line-height:19.80px;font-weight:400;color:#7a20d5;">View more</div>
<div class="t " style="left:1028.5px;top:1051.36px;font-size:16px;line-height:19.20px;font-weight:700;color:#111;">Skills</div>
<svg class="b" style="left:1295.7px;top:1044.3px;" width="15.5" height="15.5" viewBox="0 0 15.5 15.5" fill="none"><circle cx="7.75" cy="7.75" r="7.6" fill="#f5a541"/><path d="M3.6 8 L6.4 10.8 L11.9 4.6" stroke="#fff" stroke-width="1.4"/></svg>
<svg class="b" style="left:1320.1000000000001px;top:1044.3px;" width="15.5" height="15.5" viewBox="0 0 15.5 15.5" fill="none"><circle cx="7.75" cy="7.75" r="7.6" fill="#f5a541"/><path d="M3.6 8 L6.4 10.8 L11.9 4.6" stroke="#fff" stroke-width="1.4"/></svg>
<div class="t " style="left:1837.2px;top:1045.18px;font-size:16.5px;line-height:19.80px;font-weight:400;color:#7a20d5;">View more</div>
<div class="t " style="left:1028.5px;top:1088.56px;font-size:16px;line-height:19.20px;font-weight:700;color:#111;">Qualifications</div>
<svg class="b" style="left:1295.7px;top:1082.6px;" width="15.5" height="15.5" viewBox="0 0 15.5 15.5" fill="none"><circle cx="7.75" cy="7.75" r="7.6" fill="#dd3e1f"/><path d="M3.8 7.75 H11.7" stroke="#fff" stroke-width="1.6"/></svg>
<svg class="b" style="left:1320.1000000000001px;top:1082.6px;" width="15.5" height="15.5" viewBox="0 0 15.5 15.5" fill="none"><circle cx="7.75" cy="7.75" r="7.6" fill="#dd3e1f"/><path d="M3.8 7.75 H11.7" stroke="#fff" stroke-width="1.6"/></svg>
<div class="t " style="left:1837.2px;top:1083.18px;font-size:16.5px;line-height:19.80px;font-weight:400;color:#7a20d5;">View more</div>
<div class="t " style="left:1775.4px;top:1136.81px;font-size:17.1px;line-height:20.52px;font-weight:400;color:#7a20d5;text-decoration:underline;text-underline-offset:3px;text-decoration-thickness:1px;">Update score card</div>
<div class="b" style="left:967px;top:1185px;width:975px;height:1.2999999999999545px;background:#dcdcde;"></div>
<div class="b" style="left:975px;top:1221.2px;width:31px;height:30.799999999999955px;background:#7a20d5;border-radius:50%;"></div>
<svg class="b" style="left:983.7px;top:1229.7px;" width="14" height="14" viewBox="0 0 17 17" fill="none"><path d="M8.3 0.9 Q8.9 7.7 16 8.3 Q8.9 8.9 8.3 15.6 Q7.7 8.9 0.6 8.3 Q7.7 7.7 8.3 0.9Z" stroke="#fff" stroke-width="1.45" stroke-linejoin="round"/><path d="M2.6 0.6000000000000001 Q3.188 2.112 4.7 2.7 Q3.188 3.2880000000000003 2.6 4.800000000000001 Q2.012 3.2880000000000003 0.5 2.7 Q2.012 2.112 2.6 0.6000000000000001Z" fill="#fff"/><path d="M13.5 11.3 Q14.116 12.884 15.7 13.5 Q14.116 14.116 13.5 15.7 Q12.884 14.116 11.3 13.5 Q12.884 12.884 13.5 11.3Z" fill="#fff"/></svg>
<div class="t " style="left:1024.7px;top:1222.18px;font-size:23.9px;line-height:28.68px;font-weight:700;color:#111;">SmartMatch</div>
<div class="b" style="left:1028.3px;top:1270.2px;width:913.7px;height:129.79999999999995px;background:#f1e9fa;border-radius:6px;"></div>
<div class="t " style="left:1114.8px;top:1288.67px;font-size:16.2px;line-height:19.44px;font-weight:700;color:#111;">is interested in this role!</div>
<div class="t " style="left:1046.0px;top:1312.90px;font-size:16.8px;line-height:20.16px;font-weight:400;color:#111;">SmartMatch has identified Ishelle as a top match for this role, and they have expressed interest in the position. Reach</div>
<div class="b" style="left:2445px;top:0px;width:10px;height:1328px;background:#fafafa;border-left:1px solid #e6e6e6;"></div>
<div class="b" style="left:2449px;top:4px;width:6px;height:731.5px;background:#c1c1c1;border-radius:3px 0 0 3px;"></div>
<div class="b" style="left:2372px;top:1240px;width:70px;height:70px;background:#7a20d5;border-radius:50%;"></div>
<div class="b" style="left:2388.6px;top:1264px;width:36.59999999999991px;height:18.200000000000045px;background:#fff;border-radius:9.1px;"></div>
<svg class="b" style="left:2410px;top:1285px;" width="9" height="9" viewBox="0 0 9 9" fill="none"><path d="M0.5 0.5 H8 V8Z" fill="#fff"/></svg>
<div class="b" style="left:0;top:0;width:2460px;height:4px;background:#000;"></div>
<div class="b" style="left:0;top:4px;width:2460px;height:1px;background:#fff;"></div>
<div class="b" style="left:1px;top:0;width:4px;height:1328px;background:#000;"></div>
<div class="b" style="left:0;top:0;width:1px;height:1328px;background:#ccc;"></div>
<div class="b" style="left:5px;top:5px;width:1px;height:1323px;background:#fff;"></div>
<div class="b" style="left:2455px;top:0;width:5px;height:1328px;background:#000;"></div>
<div class="b" style="left:0;top:1324px;width:2460px;height:4px;background:#000;"></div>
</body></html>
